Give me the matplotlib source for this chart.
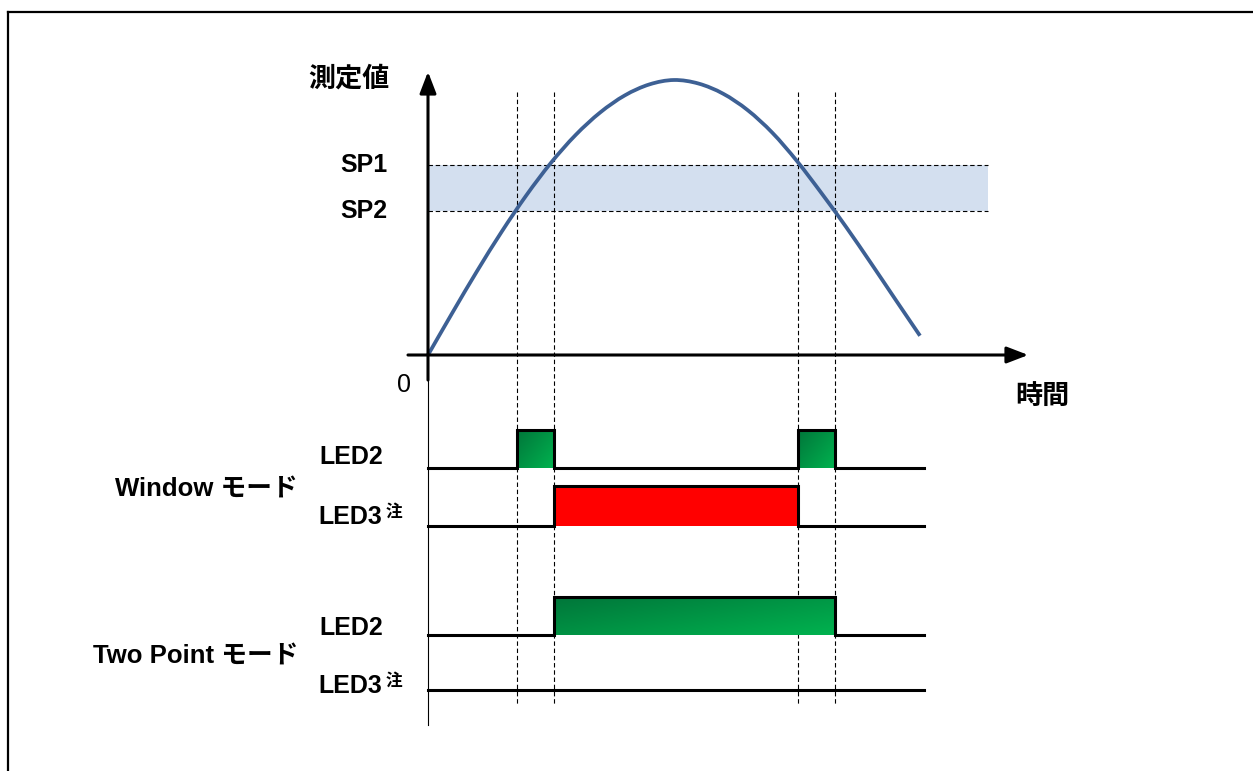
import numpy as np
import matplotlib
matplotlib.use("Agg")
import matplotlib.pyplot as plt
from matplotlib.colors import LinearSegmentedColormap
from matplotlib.lines import Line2D
from matplotlib.path import Path
from matplotlib.patches import PathPatch

plt.rcParams['font.family'] = ['Liberation Sans', 'Noto Sans CJK JP', 'DejaVu Sans']

# measured value over time (schematic units)
time = [0, 5, 10, 15, 20, 25, 30, 35, 40, 45, 50, 55, 60, 65, 70, 75, 80, 85, 90, 95, 100]
value = [0, 15.5, 30.6, 44.9, 58.1, 69.9, 80, 88.2, 94.4, 98.4, 100, 98.7, 95, 89, 80.8,
         70.5, 58.8, 46.5, 33.5, 20.2, 7]

sp1 = 69.1
sp2 = 52.4
# times where the curve crosses SP2 / SP1 going up, then SP1 / SP2 going down
cross = [18.1, 25.6, 75.2, 82.7]

# LED on-intervals per mode
window_led2 = [(cross[0], cross[1]), (cross[2], cross[3])]
window_led3 = [(cross[1], cross[2])]
twopoint_led2 = [(cross[1], cross[3])]
twopoint_led3 = []

W, H = 1253, 771
fig = plt.figure(figsize=(W / 100, H / 100), dpi=100)
ax = fig.add_axes([0, 0, 1, 1])
ax.axis('off')
sx, sy = 4.92, 2.75
ax.set_xlim(-428 / sx, (W - 428) / sx)
ax.set_ylim(-(H - 355) / sy, 355 / sy)

# frame (only top and left visible)
fig.add_artist(Line2D([8 / W, 8 / W], [0, 1 - 12 / H], color='black', lw=1.6))
fig.add_artist(Line2D([8 / W, 1], [1 - 12 / H, 1 - 12 / H], color='black', lw=1.6))

t_end_band = 113.8
ax.fill_between([0, t_end_band], sp2, sp1, color='#D3DFEF', zorder=1, lw=0)
dash = (0, (4, 2.5))
for sp in (sp1, sp2):
    ax.plot([0, t_end_band], [sp, sp], color='black', lw=0.8, ls=dash, zorder=2)
for t in cross:
    ax.plot([t, t], [95.6, -127.3], color='black', lw=0.8, ls=dash, zorder=2)

# smooth curve through the points (Catmull-Rom as cubic Bezier segments)
P = np.column_stack([time, value]).astype(float)
verts = [P[0]]
codes = [Path.MOVETO]
for i in range(len(P) - 1):
    p0 = P[i - 1] if i > 0 else P[i]
    p3 = P[i + 2] if i + 2 < len(P) else P[i + 1]
    c1 = P[i] + (P[i + 1] - p0) / 6
    c2 = P[i + 1] - (p3 - P[i]) / 6
    verts += [c1, c2, P[i + 1]]
    codes += [Path.CURVE4] * 3
ax.add_patch(PathPatch(Path(verts, codes), facecolor='none', edgecolor='#3D6094',
                       lw=2.7, zorder=4, capstyle='butt'))

# axes with arrows
ax.plot([0, 0], [-9.1, -134.5], color='black', lw=0.8, zorder=3)
arrow = dict(arrowstyle='-|>,head_length=0.65,head_width=0.25', color='black',
             lw=2.2, mutation_scale=20, shrinkA=0, shrinkB=0)
ax.annotate('', xy=(0, 103), xytext=(0, -9.1), arrowprops=arrow, zorder=5)
ax.annotate('', xy=(122, 0), xytext=(-4.07, 0), arrowprops=arrow, zorder=5)

green = LinearSegmentedColormap.from_list('g', ['#00763A', '#00B24F'])
GX, GY = np.meshgrid(np.linspace(0, 1, 200), np.linspace(0, 1, 50))


def draw_row(intervals, base, high, fill):
    xs, ys = [0], [base]
    for s, e in intervals:
        if fill == 'green':
            ax.imshow(0.55 * GX + 0.45 * GY, cmap=green, origin='upper', aspect='auto',
                      extent=(s, e, base, high), zorder=3, interpolation='bilinear')
        else:
            ax.fill_between([s, e], base, high, color=fill, lw=0, zorder=3)
        xs += [s, s, e, e]
        ys += [base, high, high, base]
    xs.append(100.8)
    ys.append(base)
    ax.plot(xs, ys, color='black', lw=2.2, zorder=4, solid_joinstyle='miter')


draw_row(window_led2, -41.1, -27.3, 'green')
draw_row(window_led3, -62.2, -47.6, '#FF0000')
draw_row(twopoint_led2, -101.8, -88.0, 'green')
draw_row(twopoint_led3, -121.8, -108.0, 'green')

ax.set_xlim(-428 / sx, (W - 428) / sx)
ax.set_ylim(-(H - 355) / sy, 355 / sy)

fs = 18
ax.text(-16, 100, '測定値', fontsize=19.5, fontweight='bold', ha='center', va='center')
ax.text(-8.3, sp1, 'SP1', fontsize=fs, fontweight='bold', ha='right', va='center')
ax.text(-8.3, sp2, 'SP2', fontsize=fs, fontweight='bold', ha='right', va='center')
ax.text(-4.9, -10.9, '0', fontsize=fs, ha='center', va='center')
ax.text(124.8, -15.3, '時間', fontsize=19.5, fontweight='bold', ha='center', va='center')

for yv in (-37.1, -99.3):
    ax.text(-9.1, yv, 'LED2', fontsize=fs, fontweight='bold', ha='right', va='center')
for yv in (-58.9, -120.4):
    ax.text(-9.3, yv, 'LED3', fontsize=fs, fontweight='bold', ha='right', va='center')
    ax.text(-8.6, yv + 1.8, '注', fontsize=12, fontweight='bold', ha='left', va='center')
ax.text(-26.4, -49.1, 'Window モード', fontsize=18.5, fontweight='bold', ha='right', va='center')
ax.text(-26.4, -109.8, 'Two Point モード', fontsize=18.5, fontweight='bold', ha='right', va='center')

fig.savefig('out.png', dpi=100)
